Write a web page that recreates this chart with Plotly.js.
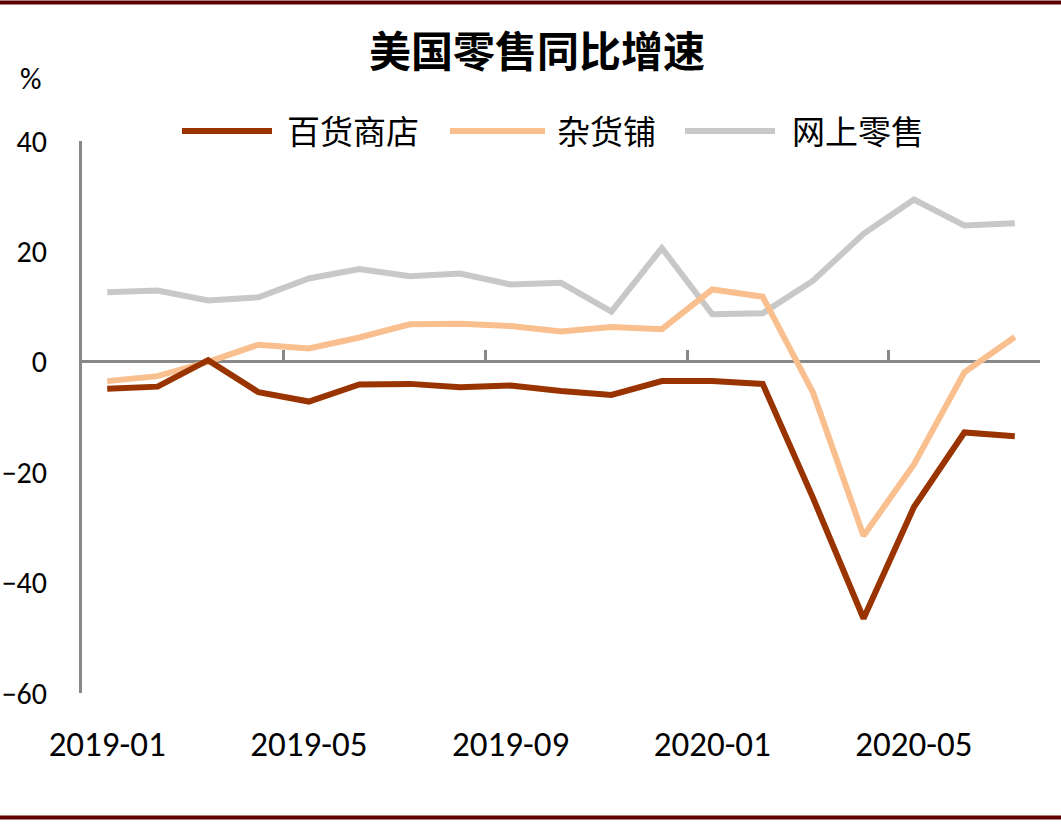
<!DOCTYPE html>
<html>
<head>
<meta charset="utf-8">
<script src="https://cdn.plot.ly/plotly-3.0.1.min.js"></script>
<style>html,body{margin:0;padding:0;background:#fff;}#chart{width:1061px;height:825px;}</style>
</head>
<body>
<div id="chart"></div>
<script>
// ---- data ----
const months = ['2019-01','2019-02','2019-03','2019-04','2019-05','2019-06','2019-07','2019-08','2019-09','2019-10','2019-11','2019-12','2020-01','2020-02','2020-03','2020-04','2020-05','2020-06','2020-07'];
const tickLabels = ['2019-01','2019-05','2019-09','2020-01','2020-05'];
const deptStores = [-4.9,-4.5,0.3,-5.5,-7.2,-4.1,-4.0,-4.6,-4.3,-5.3,-6.0,-3.5,-3.5,-4.0,-24.7,-46.5,-26.3,-12.8,-13.5];
const groceryStores = [-3.5,-2.6,0.0,3.1,2.4,4.4,6.8,6.9,6.5,5.5,6.3,5.9,13.1,11.8,-5.6,-31.5,-18.6,-1.9,4.5];
const onlineRetail = [12.6,12.9,11.1,11.7,15.1,16.8,15.5,16.0,14.0,14.3,9.1,20.6,8.6,8.8,14.7,23.2,29.4,24.7,25.1];
const seriesNames = ['百货商店','杂货铺','网上零售'];
const seriesColors = ['#993300','#F9BF8F','#C8C8C8'];
const boundaryTicks = [3.5,7.5,11.5,15.5];

// ---- layout helpers (pixel -> paper) ----
const L = 82, R = 1040, T = 141, B = 693;
const px = p => (p - L) / (R - L);
const py = p => (B - p) / (B - T);

const series = [deptStores, groceryStores, onlineRetail];
const traces = series.map((s, i) => ({
  x: months, y: s, type: 'scatter', mode: 'lines', name: seriesNames[i],
  line: {color: seriesColors[i], width: 6}, showlegend: false, hoverinfo: 'skip'
}));
// draw order: gray at back
traces.reverse();
traces.push({x: [], y: [], xaxis: 'x2', type: 'scatter', showlegend: false, hoverinfo: 'skip'});

const tickFamily = 'Carlito, Lato, Liberation Sans';
const legendPos = [[182,272,285],[450,545,555],[685,775,790]];
const shapes = [];
const annotations = [];
legendPos.forEach((p, i) => {
  shapes.push({type: 'line', xref: 'paper', yref: 'paper', x0: px(p[0]), x1: px(p[1]), y0: py(131), y1: py(131),
    line: {color: seriesColors[i], width: 6}});
  annotations.push({xref: 'paper', yref: 'paper', x: px(p[2]), y: py(130), xanchor: 'left', yanchor: 'middle',
    text: seriesNames[i], showarrow: false, font: {family: 'Noto Sans CJK SC', size: 33, color: '#000'}});
});
// frame bars
shapes.push({type: 'line', xref: 'paper', yref: 'paper', x0: px(0), x1: px(1061), y0: py(2.5), y1: py(2.5), line: {color: '#5E0000', width: 4}});
shapes.push({type: 'line', xref: 'paper', yref: 'paper', x0: px(0), x1: px(1061), y0: py(817.5), y1: py(817.5), line: {color: '#5E0000', width: 4}});
annotations.push({xref: 'paper', yref: 'paper', x: px(30), y: py(79), xanchor: 'center', yanchor: 'middle', text: '%', showarrow: false,
  font: {family: tickFamily, size: 30, color: '#000'}});

const layout = {
  width: 1061, height: 825,
  margin: {l: L, r: 1061 - R, t: T, b: 825 - B},
  paper_bgcolor: '#fff', plot_bgcolor: '#fff',
  title: {text: '美国零售同比增速', x: 537/1061, xanchor: 'center', y: 1 - 52/825, yanchor: 'middle',
    font: {family: 'Noto Sans CJK SC', size: 42, color: '#000', weight: 700}},
  xaxis: {type: 'category', range: [-0.5, 18.5], tickmode: 'array', tickvals: tickLabels, ticktext: tickLabels,
    showgrid: false, zeroline: false, showline: false, ticks: '', ticklabelstandoff: 27,
    tickfont: {family: tickFamily, size: 35, color: '#000'}},
  xaxis2: {overlaying: 'x', anchor: 'free', position: 0.6, range: [-0.5, 18.5], tickmode: 'array', tickvals: boundaryTicks,
    ticks: 'inside', ticklen: 12, tickwidth: 3, tickcolor: '#888', showticklabels: false, showgrid: false, zeroline: false, showline: false},
  yaxis: {range: [-60, 40], tickmode: 'linear', tick0: -60, dtick: 20, showgrid: false,
    zeroline: true, zerolinecolor: '#888', zerolinewidth: 3,
    showline: true, linecolor: '#888', linewidth: 3, ticks: '', ticklabelstandoff: 26,
    tickfont: {family: tickFamily, size: 30, color: '#000'}},
  shapes: shapes, annotations: annotations, showlegend: false
};
Plotly.newPlot('chart', traces, layout, {displayModeBar: false, staticPlot: true});
</script>
</body>
</html>
